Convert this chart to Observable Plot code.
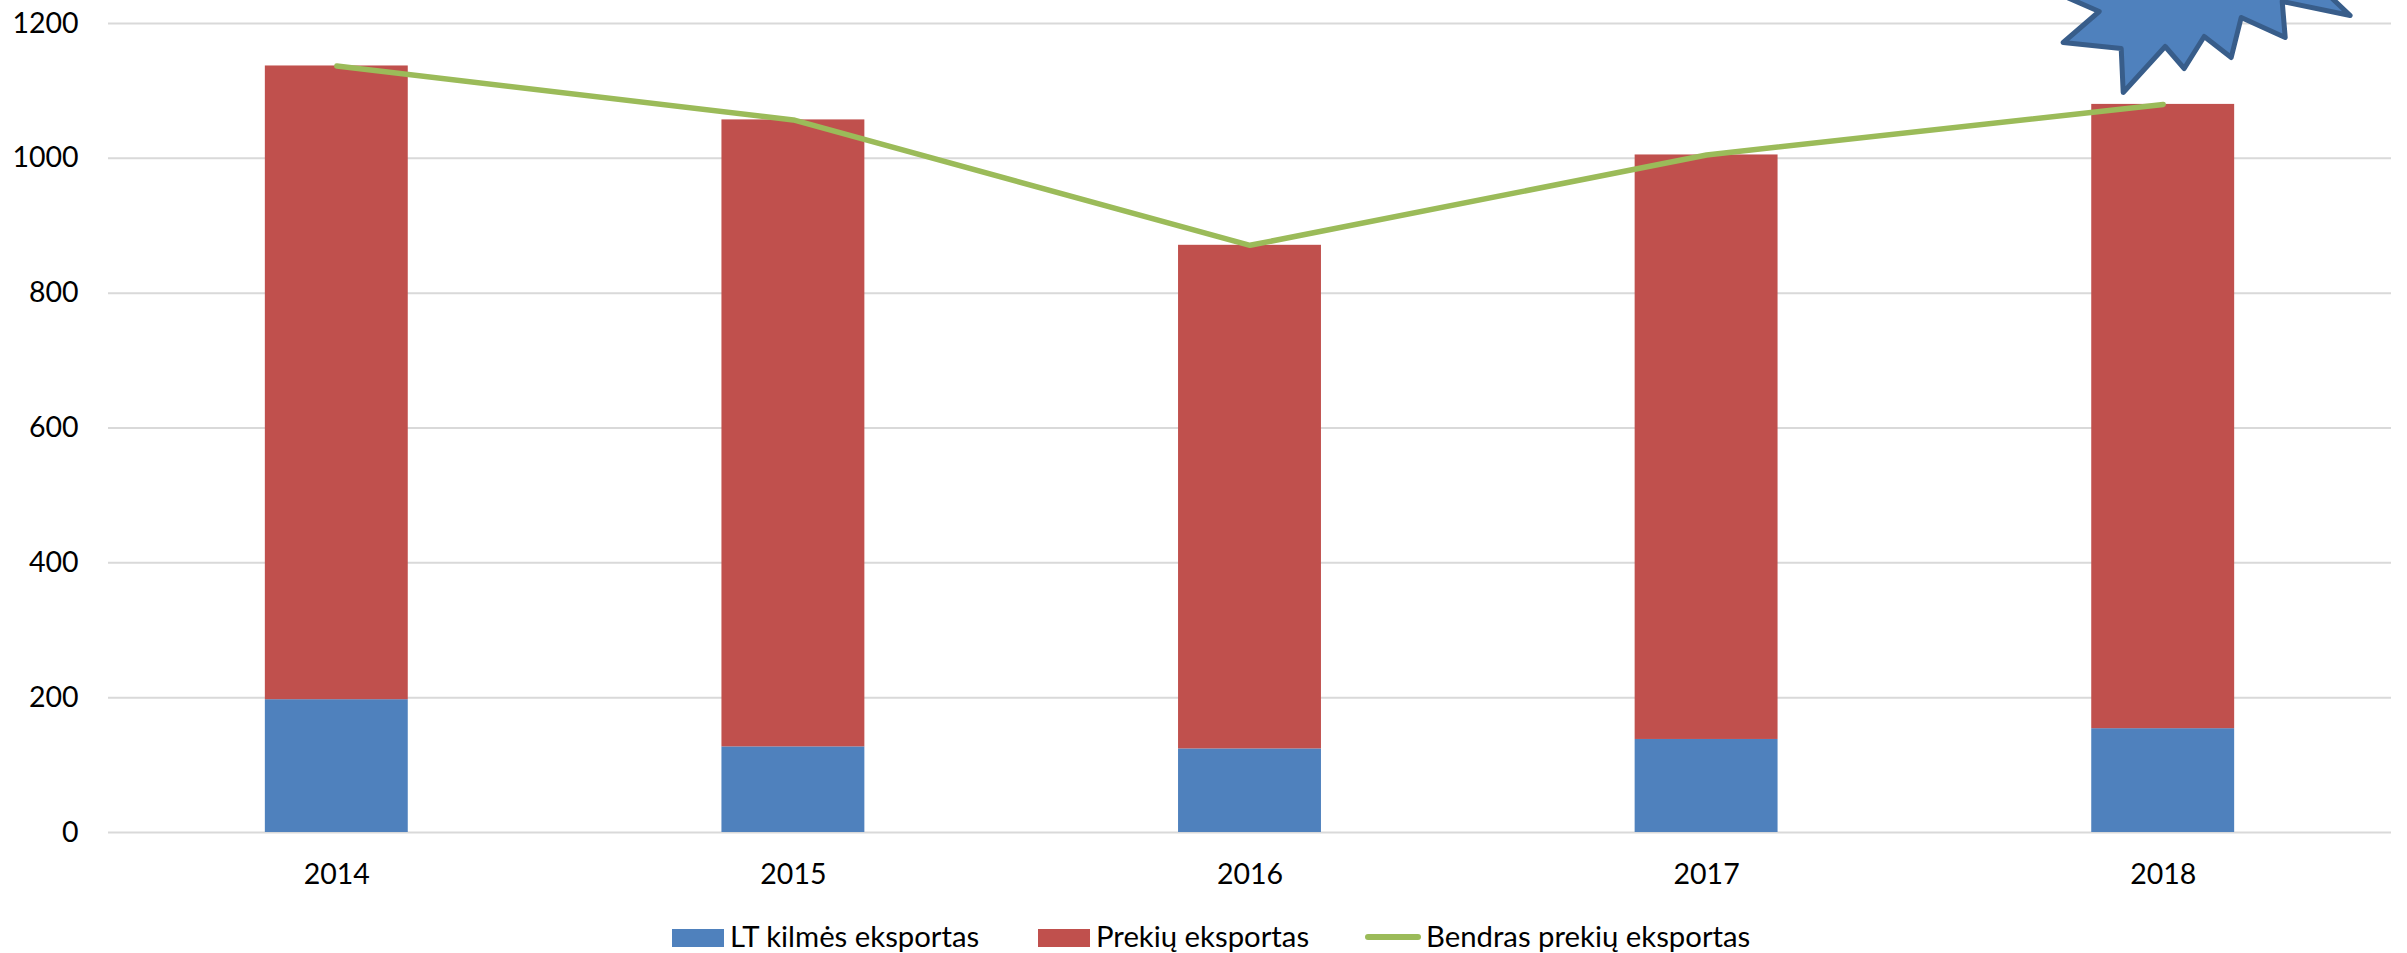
<!DOCTYPE html>
<html lang="lt">
<head>
<meta charset="utf-8">
<script src="https://cdn.jsdelivr.net/npm/d3@7"></script>
<script src="https://cdn.jsdelivr.net/npm/@observablehq/plot@0.6"></script>
<style>
  html, body { margin: 0; padding: 0; background: #fff; overflow: hidden; }
  #chart svg { display: block; font-family: Lato, sans-serif; }
  #legend { position: relative; height: 60px; font: 29.3px Lato, sans-serif; color: #000; }
  #legend .sw { position: absolute; top: 36px; height: 18px; }
  #legend .tx { position: absolute; top: 26px; line-height: 34px; white-space: nowrap; }
</style>
</head>
<body>
<div id="chart"></div>
<div id="legend"></div>
<script>
const years = ["2014", "2015", "2016", "2017", "2018"];
const ltKilmes = [197, 127, 124, 138, 154];
const prekiu = [940, 930, 747, 867, 926];
const bendras = [1137, 1057, 871, 1005, 1080];
const yTicks = [0, 200, 400, 600, 800, 1000, 1200];
const seriesNames = ["LT kilmės eksportas", "Prekių eksportas", "Bendras prekių eksportas"];
const seriesColors = ["#4f81bd", "#c0504d", "#9bbb59"];

const stacked = years.flatMap((year, i) => [
  {year, series: seriesNames[0], value: ltKilmes[i]},
  {year, series: seriesNames[1], value: prekiu[i]}
]);
const totals = years.map((year, i) => ({year, value: bendras[i]}));

// Decorative burst callout, clipped by the top of the page. Outline relative to its anchor.
const burstOutline = [
  [-135, -43], [-64, -12], [-100, 19], [-42, 25], [-40, 69], [2, 23], [21, 45], [41, 13],
  [68, 34], [78, -6], [122, 14], [119, -22], [187, -8], [150, -43], [40, -110]
];
const burstSymbol = {
  draw(context) {
    burstOutline.forEach(([dx, dy], i) => i ? context.lineTo(dx, dy) : context.moveTo(dx, dy));
    context.closePath();
  }
};

const chart = Plot.plot({
  width: 2407,
  height: 893,
  marginLeft: 108,
  marginRight: 16,
  marginTop: 23,
  marginBottom: 61,
  style: {background: "#fff", fontFamily: "Lato, sans-serif", fontSize: "28.5px", color: "#000", overflow: "visible"},
  x: {domain: years, paddingInner: 0.687, paddingOuter: 0.3435, round: false, label: null},
  y: {domain: [0, 1200], label: null},
  color: {domain: seriesNames, range: seriesColors},
  marks: [
    Plot.ruleY(yTicks, {stroke: "#d9d9d9", strokeWidth: 2}),
    Plot.barY(stacked, {x: "year", y: "value", fill: "series", order: seriesNames}),
    Plot.line(totals, {x: "year", y: "value", stroke: seriesColors[2], strokeWidth: 5.5, strokeLinecap: "round", strokeLinejoin: "round"}),
    Plot.dot([{year: "2018", value: 1200}], {
      x: "year", y: "value", symbol: () => burstSymbol, r: 10,
      fill: seriesColors[0], stroke: "#385d8a", strokeWidth: 5, strokeLinejoin: "round"
    }),
    Plot.axisY({ticks: yTicks, tickSize: 0, tickPadding: 30, label: null, tickFormat: d => String(d), fontSize: 28.5, fill: "#000"}),
    Plot.axisX({tickSize: 0, tickPadding: 31, label: null, fontSize: 28.5, fill: "#000"})
  ]
});
document.getElementById("chart").append(chart);

const legend = d3.select("#legend");
const items = [
  {i: 0, sw: [672, 52], tx: 730},
  {i: 1, sw: [1038, 52], tx: 1096},
  {i: 2, sw: [1365, 56], tx: 1426}
];
items.forEach(({i, sw, tx}) => {
  const s = legend.append("span").attr("class", "sw")
    .style("left", sw[0] + "px").style("width", sw[1] + "px")
    .style("background", seriesColors[i]);
  if (i === 2) s.style("top", "41px").style("height", "6px").style("border-radius", "3px");
  legend.append("span").attr("class", "tx").style("left", tx + "px").text(seriesNames[i]);
});
</script>
</body>
</html>
